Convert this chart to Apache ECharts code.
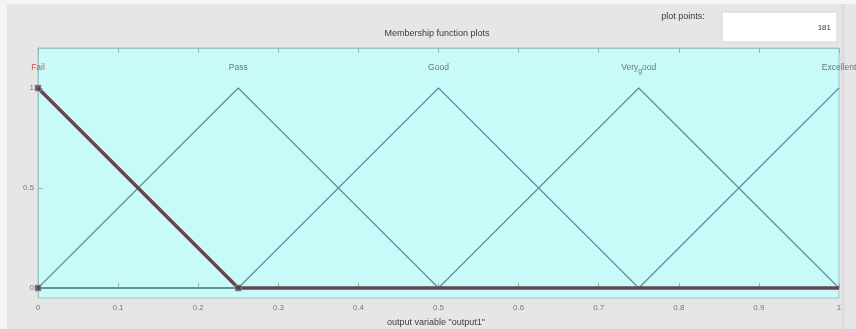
<!DOCTYPE html>
<html>
<head>
<meta charset="utf-8">
<script src="https://cdn.jsdelivr.net/npm/echarts@6/dist/echarts.min.js"></script>
<style>
  html, body { margin: 0; padding: 0; background: #e6e6e6; }
  #chart { width: 856px; height: 329px; }
</style>
</head>
<body>
<div id="chart"></div>
<script>
// Membership functions of the output variable "output1" (triangular, 5 terms)
const mfNames = ['Fail', 'Pass', 'Good', 'Very_good', 'Excellent'];
const mfPeaks = [0, 0.25, 0.5, 0.75, 1];

// Breakpoints (x, membership) of each membership function over [0, 1]
const failX = [0, 0.25, 1];
const failY = [1, 0, 0];
const passX = [0, 0.25, 0.5, 1];
const passY = [0, 1, 0, 0];
const goodX = [0, 0.25, 0.5, 0.75, 1];
const goodY = [0, 0, 1, 0, 0];
const veryGoodX = [0, 0.5, 0.75, 1];
const veryGoodY = [0, 0, 1, 0];
const excellentX = [0, 0.75, 1];
const excellentY = [0, 0, 1];

// Vertex handles of the selected function
const handleX = [0, 0, 0.25];
const handleY = [1, 0, 0];

const xTicks = ['0', '0.1', '0.2', '0.3', '0.4', '0.5', '0.6', '0.7', '0.8', '0.9', '1'];
const yTicks = ['0', '0.5', '1'];
const labelLevel = 1.1;
const plotPoints = 181;

const zip = (xs, ys) => xs.map((x, i) => [x, ys[i]]);

const lineColor = '#5f9397';
const selColor = '#66474f';
const textColor = '#555555';
const font = 'Liberation Sans, Arial, sans-serif';

function mfLine(name, xs, ys, color, width, z) {
  return {
    name: name, type: 'line', data: zip(xs, ys), showSymbol: false,
    lineStyle: { color: color, width: width }, z: z, animation: false, silent: true
  };
}

// Render "Very_good" with the character after "_" as a subscript
function tagText(name) {
  const i = name.indexOf('_');
  if (i < 0) return '{n|' + name + '}';
  return '{n|' + name.slice(0, i) + '}{s|' + name.charAt(i + 1) + '}{n|' + name.slice(i + 2) + '}';
}

const chart = echarts.init(document.getElementById('chart'), null, { renderer: 'canvas' });

chart.setOption({
  backgroundColor: '#e6e6e6',
  animation: false,
  grid: {
    left: 38, right: 17, top: 48, bottom: 31,
    show: true, backgroundColor: '#c8fafa', borderColor: '#9cc6c6', borderWidth: 1
  },
  graphic: [
    { type: 'rect', shape: { x: 0, y: 0, width: 856, height: 4 }, style: { fill: '#f4f4f4' }, silent: true },
    { type: 'rect', shape: { x: 0, y: 0, width: 7, height: 329 }, style: { fill: '#f4f4f4' }, silent: true },
    { type: 'rect', shape: { x: 841, y: 4, width: 4, height: 325 }, style: { fill: '#dedede' }, silent: true },
    { type: 'text', x: 437, y: 34,
      style: { text: 'Membership function plots', font: '9px ' + font, fill: '#3a3a3a',
               textAlign: 'center', textVerticalAlign: 'middle' } },
    { type: 'text', x: 683, y: 17,
      style: { text: 'plot points:', font: '9px ' + font, fill: '#3a3a3a',
               textAlign: 'center', textVerticalAlign: 'middle' } },
    { type: 'rect', shape: { x: 722, y: 12, width: 115, height: 30 },
      style: { fill: '#ffffff', stroke: '#d4d4d4', lineWidth: 1 } },
    { type: 'text', x: 831, y: 28,
      style: { text: String(plotPoints), font: '8px ' + font, fill: '#3a3a3a',
               textAlign: 'right', textVerticalAlign: 'middle' } },
    { type: 'text', x: 436, y: 323,
      style: { text: 'output variable "output1"', font: '9px ' + font, fill: '#3a3a3a',
               textAlign: 'center', textVerticalAlign: 'middle' } }
  ],
  xAxis: [{
    type: 'value', min: 0, max: 1, interval: 0.1, position: 'bottom',
    axisLine: { show: true, lineStyle: { color: '#9cc6c6' } },
    axisTick: { show: true, inside: true, length: 5, lineStyle: { color: '#8fb5b5' } },
    splitLine: { show: false },
    axisLabel: {
      color: '#777777', fontSize: 8, fontFamily: font, margin: 6,
      formatter: (v) => xTicks[Math.round(v * 10)]
    }
  }, {
    type: 'value', min: 0, max: 1, interval: 0.1, position: 'top',
    axisLine: { show: true, lineStyle: { color: '#9cc6c6' } },
    axisTick: { show: true, inside: true, length: 5, lineStyle: { color: '#8fb5b5' } },
    splitLine: { show: false }, axisLabel: { show: false }
  }],
  yAxis: {
    type: 'value', min: -0.05, max: 1.2, position: 'left',
    axisLine: { show: true, lineStyle: { color: '#9cc6c6' } },
    axisTick: { show: true, inside: true, length: 5, lineStyle: { color: '#8fb5b5' },
      customValues: [0, 0.5, 1] },
    axisLabel: {
      color: '#777777', fontSize: 8, fontFamily: font, margin: 4,
      customValues: [0, 0.5, 1],
      formatter: (v) => yTicks[Math.round(v * 2)]
    },
    splitLine: { show: false }
  },
  series: [
    mfLine('Pass', passX, passY, lineColor, 1.3, 2),
    mfLine('Good', goodX, goodY, lineColor, 1.3, 2),
    mfLine('Very_good', veryGoodX, veryGoodY, lineColor, 1.3, 2),
    mfLine('Excellent', excellentX, excellentY, lineColor, 1.3, 2),
    mfLine('Fail', failX, failY, selColor, 3.5, 3),
    {
      type: 'scatter', data: zip(handleX, handleY), symbol: 'rect', symbolSize: 6,
      itemStyle: { color: '#3f4650', borderColor: '#c58a9a', borderWidth: 0.8 },
      z: 4, animation: false, silent: true
    },
    {
      type: 'scatter', symbolSize: 0, z: 5, animation: false, silent: true,
      data: mfPeaks.map((x, i) => ({
        value: [x, labelLevel], name: mfNames[i],
        label: { rich: { n: { color: i === 0 ? '#c0303a' : textColor, fontSize: 8.5, fontFamily: font },
                         s: { color: textColor, fontSize: 7, fontFamily: font, padding: [6, 0, 0, 0] } } }
      })),
      label: {
        show: true, position: 'inside',
        formatter: (p) => tagText(p.name)
      }
    }
  ]
});
</script>
</body>
</html>
